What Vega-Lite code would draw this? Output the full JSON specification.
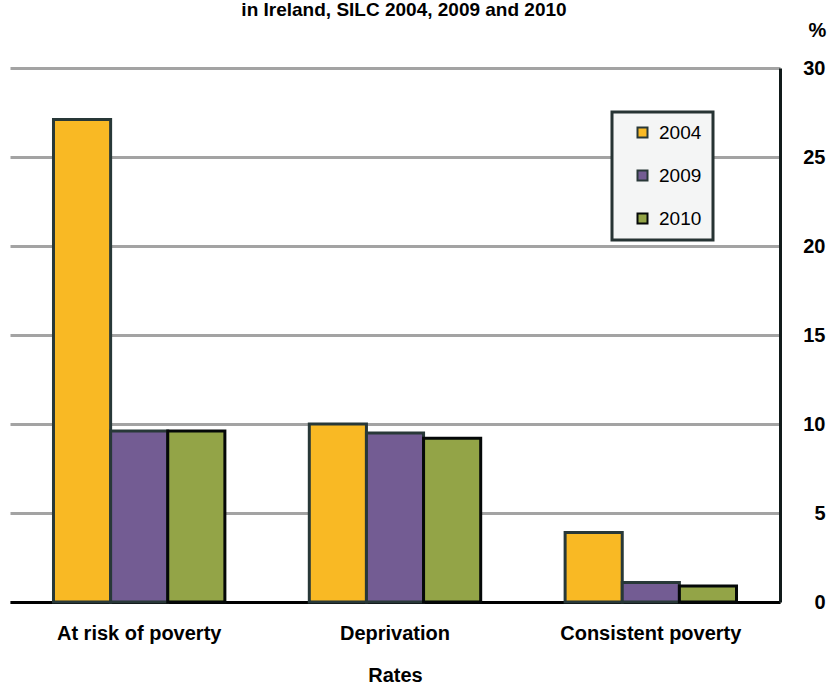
{
  "$schema": "https://vega.github.io/schema/vega-lite/v6.json",
  "width": 770,
  "height": 534,
  "autosize": {"type": "none"},
  "padding": {"left": 10, "top": 68, "right": 50, "bottom": 84},
  "background": "white",
  "title": {
    "text": "in Ireland, SILC 2004, 2009 and 2010",
    "font": "Liberation Sans",
    "fontSize": 19,
    "fontWeight": "bold",
    "color": "#000000",
    "anchor": "middle",
    "baseline": "alphabetic",
    "dx": 9,
    "dy": 19
  },
  "data": {
    "values": [
      {"rate": "At risk of poverty", "year": "2004", "value": 27.1},
      {"rate": "At risk of poverty", "year": "2009", "value": 9.6},
      {"rate": "At risk of poverty", "year": "2010", "value": 9.6},
      {"rate": "Deprivation", "year": "2004", "value": 10.0},
      {"rate": "Deprivation", "year": "2009", "value": 9.5},
      {"rate": "Deprivation", "year": "2010", "value": 9.2},
      {"rate": "Consistent poverty", "year": "2004", "value": 3.9},
      {"rate": "Consistent poverty", "year": "2009", "value": 1.1},
      {"rate": "Consistent poverty", "year": "2010", "value": 0.9}
    ]
  },
  "mark": {"type": "bar", "strokeWidth": 3, "fillOpacity": 1},
  "encoding": {
    "x": {
      "field": "rate",
      "type": "nominal",
      "sort": ["At risk of poverty", "Deprivation", "Consistent poverty"],
      "scale": {"paddingInner": 0.33, "paddingOuter": 0.17},
      "axis": {
        "title": "Rates",
        "labelAngle": 0,
        "labelLimit": 0,
        "labelFont": "Liberation Sans",
        "labelFontSize": 20,
        "labelFontWeight": "bold",
        "labelColor": "#000000",
        "labelPadding": 21,
        "titleFont": "Liberation Sans",
        "titleFontSize": 20,
        "titleFontWeight": "bold",
        "titleColor": "#000000",
        "titlePadding": 22,
        "ticks": false,
        "domainColor": "#000000",
        "domainWidth": 3,
        "grid": false
      }
    },
    "xOffset": {
      "field": "year",
      "type": "nominal",
      "scale": {"paddingInner": 0, "paddingOuter": 0}
    },
    "y": {
      "field": "value",
      "type": "quantitative",
      "scale": {"domain": [0, 30], "nice": false},
      "axis": {
        "orient": "right",
        "values": [0, 5, 10, 15, 20, 25, 30],
        "title": "%",
        "titleAngle": 0,
        "titleX": 37,
        "titleY": -38,
        "titleAlign": "center",
        "titleBaseline": "middle",
        "titleFont": "Liberation Sans",
        "titleFontSize": 20,
        "titleFontWeight": "bold",
        "titleColor": "#000000",
        "labelFont": "Liberation Sans",
        "labelFontSize": 20,
        "labelFontWeight": "bold",
        "labelColor": "#000000",
        "labelAlign": "right",
        "labelPadding": 45,
        "ticks": false,
        "domainColor": "#111a1a",
        "domainWidth": 3,
        "grid": true,
        "gridColor": "#a3a3a3",
        "gridWidth": 3
      }
    },
    "fill": {
      "field": "year",
      "type": "nominal",
      "scale": {"domain": ["2004", "2009", "2010"], "range": ["#F9B924", "#735C93", "#93A447"]},
      "legend": {
        "title": null,
        "orient": "none",
        "legendX": 602,
        "legendY": 44,
        "direction": "vertical",
        "padding": 11,
        "symbolOffset": 10,
        "symbolType": "square",
        "symbolSize": 100,
        "symbolStrokeColor": "#263333",
        "symbolStrokeWidth": 2,
        "labelFont": "Liberation Sans",
        "labelFontSize": 19,
        "labelColor": "#000000",
        "labelOffset": 7,
        "rowPadding": 23,
        "fillColor": "#F4F5F5",
        "strokeColor": "#263333",
        "encode": {
          "legend": {"update": {"strokeWidth": {"value": 3}}}
        }
      }
    },
    "stroke": {
      "field": "year",
      "type": "nominal",
      "scale": {"domain": ["2004", "2009", "2010"], "range": ["#283838", "#283838", "#050808"]},
      "legend": null
    }
  },
  "config": {
    "view": {"stroke": null},
    "font": "Liberation Sans"
  }
}
